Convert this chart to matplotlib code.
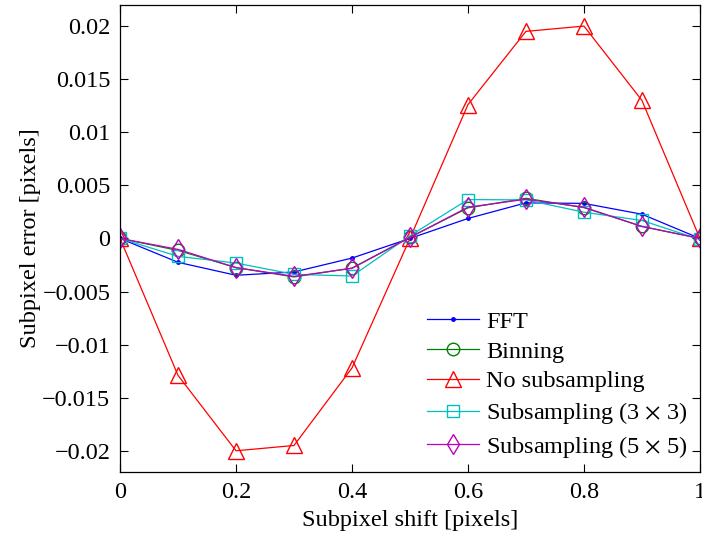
import numpy as np
import matplotlib.pyplot as plt
from matplotlib.ticker import FuncFormatter

plt.rcParams['font.family'] = ['Liberation Serif', 'DejaVu Serif']
plt.rcParams['mathtext.fontset'] = 'stix'

shift = np.linspace(0, 1, 11)
err_fft = [0, -0.00225, -0.00347, -0.00316, -0.00185, 0.0000,
           0.00188, 0.00335, 0.0033, 0.00228, 0]
err_binning = [0, -0.00113, -0.00275, -0.00363, -0.00279, 0.0001,
               0.00288, 0.00378, 0.0029, 0.00113, 0]
err_nosub = [0, -0.0129, -0.0200, -0.0195, -0.0122, 0,
             0.0126, 0.0195, 0.0200, 0.0130, 0]
err_sub3 = [0, -0.00169, -0.00232, -0.00338, -0.00354, 0.00025,
            0.00366, 0.00363, 0.00247, 0.00169, -0.0001]
err_sub5 = [0, -0.00103, -0.00275, -0.00357, -0.00282, 0.0001,
            0.00294, 0.00369, 0.00294, 0.00113, 0]

fig = plt.figure(figsize=(7.02, 5.37), dpi=100)
ax = fig.add_axes([0.171, 0.121, 0.826, 0.870])

lw = 0.9
ax.plot(shift, err_fft, '.-', color='b', lw=lw, ms=5, label='FFT')
ax.plot(shift, err_binning, 'o-', color=(0, 0.5, 0), mfc='none', lw=lw, ms=9,
        label='Binning')
ax.plot(shift, err_nosub, '^-', color='r', mfc='none', lw=lw, ms=11,
        label='No subsampling')
ax.plot(shift, err_sub3, 's-', color=(0, 0.75, 0.75), mfc='none', lw=lw, ms=8,
        label=r'Subsampling (3 $\times$ 3)')
ax.plot(shift, err_sub5, 'd-', color=(0.75, 0, 0.75), mfc='none', lw=lw, ms=10,
        label=r'Subsampling (5 $\times$ 5)')

ax.set_xlim(0, 1)
ax.set_ylim(-0.022, 0.022)
ax.set_xticks(np.arange(0, 1.01, 0.2))
ax.set_yticks(np.arange(-0.02, 0.0201, 0.005))
fmt = FuncFormatter(lambda v, p: ('%g' % round(v, 4)).replace('-', '\u2212'))
ax.xaxis.set_major_formatter(fmt)
ax.yaxis.set_major_formatter(fmt)
ax.tick_params(direction='in', top=True, right=True, length=6, width=0.8,
               labelsize=17.5, pad=7)
for s in ax.spines.values():
    s.set_linewidth(0.9)

ax.set_xlabel('Subpixel shift [pixels]', fontsize=17.5, labelpad=5)
ax.set_ylabel('Subpixel error [pixels]', fontsize=17.5, labelpad=1)

ax.legend(loc='lower right', fontsize=17.5, frameon=False, handlelength=2.15,
          handletextpad=0.3, labelspacing=0.32, borderaxespad=0.1)

fig.savefig('out.png', dpi=100)
